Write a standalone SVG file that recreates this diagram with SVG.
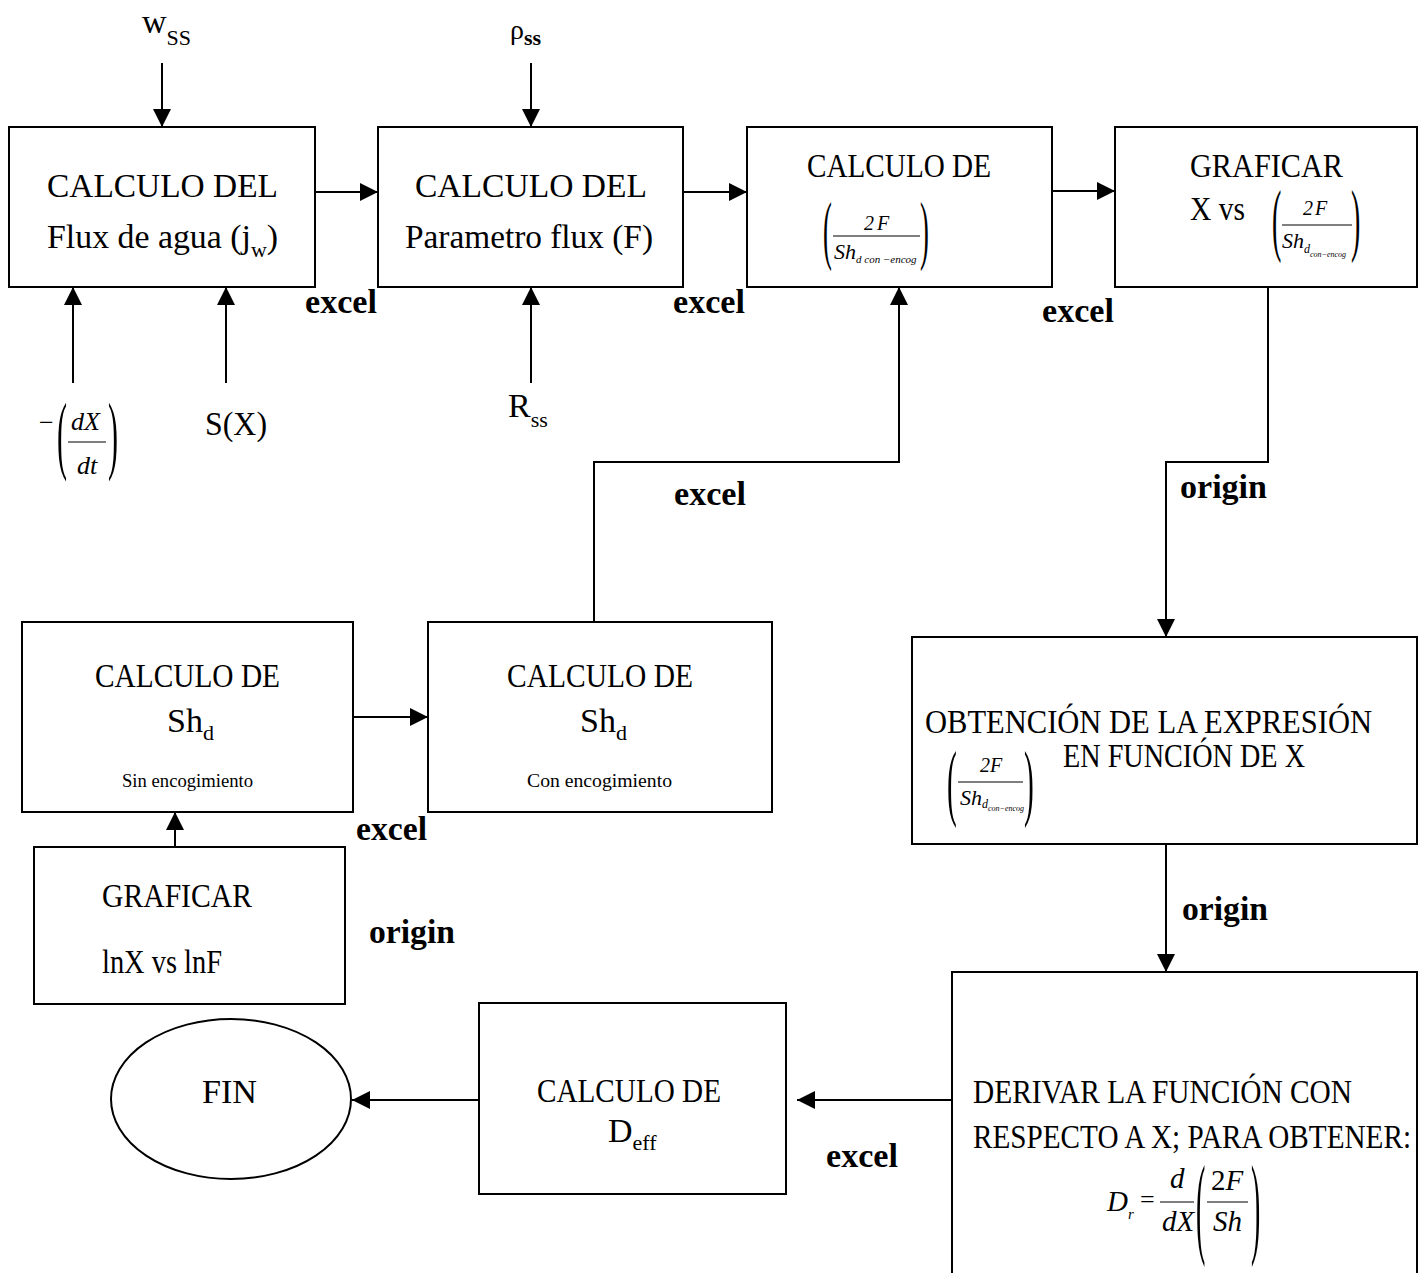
<svg xmlns="http://www.w3.org/2000/svg" width="1421" height="1273" viewBox="0 0 1421 1273">
<style>
.t{font-family:"Liberation Serif","Times New Roman",serif;fill:#000}
.b{font-weight:bold}
.i{font-style:italic}
.box{fill:#fff;stroke:#000;stroke-width:2}
.ln{fill:none;stroke:#000;stroke-width:2}
.fl{stroke:#000;stroke-width:1.2}
.f34{font-size:34px}
.f22{font-size:22px}
</style>
<defs>
<marker id="ah" markerUnits="userSpaceOnUse" markerWidth="18" markerHeight="18" viewBox="0 0 18 18" refX="18" refY="9" orient="auto">
<path d="M0,0 L18,9 L0,18 z" fill="#000"/>
</marker>
</defs>
<rect width="1421" height="1273" fill="#fff"/>

<g id="connectors">
<line class="ln" x1="162" y1="63" x2="162" y2="127" marker-end="url(#ah)"/>
<line class="ln" x1="73" y1="383" x2="73" y2="287" marker-end="url(#ah)"/>
<line class="ln" x1="226" y1="383" x2="226" y2="287" marker-end="url(#ah)"/>
<line class="ln" x1="531" y1="63" x2="531" y2="127" marker-end="url(#ah)"/>
<line class="ln" x1="531" y1="383" x2="531" y2="287" marker-end="url(#ah)"/>
<line class="ln" x1="315" y1="192" x2="378" y2="192" marker-end="url(#ah)"/>
<line class="ln" x1="683" y1="192" x2="747" y2="192" marker-end="url(#ah)"/>
<line class="ln" x1="1052" y1="191" x2="1115" y2="191" marker-end="url(#ah)"/>
<polyline class="ln" points="594,622 594,462 899,462 899,287" marker-end="url(#ah)"/>
<polyline class="ln" points="1268,287 1268,462 1166,462 1166,637" marker-end="url(#ah)"/>
<line class="ln" x1="1166" y1="844" x2="1166" y2="972" marker-end="url(#ah)"/>
<line class="ln" x1="952" y1="1100" x2="797" y2="1100" marker-end="url(#ah)"/>
<line class="ln" x1="479" y1="1100" x2="352" y2="1100" marker-end="url(#ah)"/>
<line class="ln" x1="353" y1="717" x2="428" y2="717" marker-end="url(#ah)"/>
<line class="ln" x1="175" y1="847" x2="175" y2="812" marker-end="url(#ah)"/>
</g>

<g id="labels">
<text class="t b f34" x="305" y="313" textLength="72" lengthAdjust="spacingAndGlyphs">excel</text>
<text class="t b f34" x="673" y="313" textLength="72" lengthAdjust="spacingAndGlyphs">excel</text>
<text class="t b f34" x="1042" y="322" textLength="72" lengthAdjust="spacingAndGlyphs">excel</text>
<text class="t b f34" x="674" y="505" textLength="72" lengthAdjust="spacingAndGlyphs">excel</text>
<text class="t b f34" x="356" y="840" textLength="71" lengthAdjust="spacingAndGlyphs">excel</text>
<text class="t b f34" x="826" y="1167" textLength="72" lengthAdjust="spacingAndGlyphs">excel</text>
<text class="t b f34" x="1180" y="498" textLength="87" lengthAdjust="spacingAndGlyphs">origin</text>
<text class="t b f34" x="1182" y="920" textLength="86" lengthAdjust="spacingAndGlyphs">origin</text>
<text class="t b f34" x="369" y="943" textLength="86" lengthAdjust="spacingAndGlyphs">origin</text>
</g>

<g id="input-wss">
<text class="t f34" x="142" y="33">w<tspan class="f22" dy="12">SS</tspan></text>
</g>
<g id="input-rho">
<text class="t" x="510" y="39" font-size="28">ρ<tspan class="b f22" dy="6">ss</tspan></text>
</g>
<g id="input-rss">
<text class="t f34" x="508" y="417">R<tspan class="f22" dy="10">ss</tspan></text>
</g>
<g id="input-sx">
<text class="t f34" x="205" y="435" textLength="62" lengthAdjust="spacingAndGlyphs">S(X)</text>
</g>
<g id="input-dxdt">
<text class="t" x="39" y="431" font-size="26">−</text>
<text class="t" font-size="86" transform="translate(57,463) scale(0.35,1)">(</text>
<text class="t i" x="71" y="430" font-size="26">dX</text>
<line class="fl" x1="68" y1="442" x2="106" y2="442"/>
<text class="t i" x="77" y="474" font-size="26">dt</text>
<text class="t" font-size="86" transform="translate(108,463) scale(0.35,1)">)</text>
</g>

<g id="box-flux">
<rect class="box" x="9" y="127" width="306" height="160"/>
<text class="t f34" x="47" y="197" textLength="231" lengthAdjust="spacingAndGlyphs">CALCULO DEL</text>
<text class="t f34" x="47" y="248" textLength="231" lengthAdjust="spacingAndGlyphs">Flux de agua (j<tspan class="f22" dy="9">w</tspan><tspan dy="-9">)</tspan></text>
</g>

<g id="box-parametro">
<rect class="box" x="378" y="127" width="305" height="160"/>
<text class="t f34" x="415" y="197" textLength="232" lengthAdjust="spacingAndGlyphs">CALCULO DEL</text>
<text class="t f34" x="405" y="248" textLength="248" lengthAdjust="spacingAndGlyphs">Parametro flux (F)</text>
</g>

<g id="box-calculo-2f">
<rect class="box" x="747" y="127" width="305" height="160"/>
<text class="t f34" x="807" y="177" textLength="184" lengthAdjust="spacingAndGlyphs">CALCULO DE</text>
<text class="t" font-size="76" transform="translate(823,254.5) scale(0.35,1)">(</text>
<text class="t i" x="864" y="230" font-size="20" letter-spacing="3">2F</text>
<line class="fl" x1="833" y1="236" x2="920" y2="236"/>
<text class="t i" x="834" y="259" font-size="22">Sh<tspan font-size="11" dy="4">d con −encog</tspan></text>
<text class="t" font-size="76" transform="translate(920,254.5) scale(0.35,1)">)</text>
</g>

<g id="box-graficar-x">
<rect class="box" x="1115" y="127" width="302" height="160"/>
<text class="t f34" x="1190" y="177" textLength="153" lengthAdjust="spacingAndGlyphs">GRAFICAR</text>
<text class="t f34" x="1190" y="220" textLength="55" lengthAdjust="spacingAndGlyphs">X vs</text>
<text class="t" font-size="80" transform="translate(1272,246) scale(0.35,1)">(</text>
<text class="t i" x="1303" y="215" font-size="20" letter-spacing="2">2F</text>
<line class="fl" x1="1282" y1="225" x2="1352" y2="225"/>
<text class="t i" x="1282" y="248" font-size="22">Sh<tspan font-size="12" dy="5">d</tspan><tspan font-size="8" dy="4">con−encog</tspan></text>
<text class="t" font-size="80" transform="translate(1351,246) scale(0.35,1)">)</text>
</g>

<g id="box-sin">
<rect class="box" x="22" y="622" width="331" height="190"/>
<text class="t f34" x="95" y="687" textLength="185" lengthAdjust="spacingAndGlyphs">CALCULO DE</text>
<text class="t f34" x="167" y="732">Sh<tspan class="f22" dy="8">d</tspan></text>
<text class="t" x="122" y="787" font-size="18" textLength="131" lengthAdjust="spacingAndGlyphs">Sin encogimiento</text>
</g>

<g id="box-con">
<rect class="box" x="428" y="622" width="344" height="190"/>
<text class="t f34" x="507" y="687" textLength="186" lengthAdjust="spacingAndGlyphs">CALCULO DE</text>
<text class="t f34" x="580" y="732">Sh<tspan class="f22" dy="8">d</tspan></text>
<text class="t" x="527" y="787" font-size="18" textLength="145" lengthAdjust="spacingAndGlyphs">Con  encogimiento</text>
</g>

<g id="box-graficar-ln">
<rect class="box" x="34" y="847" width="311" height="157"/>
<text class="t f34" x="102" y="907" textLength="150" lengthAdjust="spacingAndGlyphs">GRAFICAR</text>
<text class="t f34" x="102" y="973" textLength="120" lengthAdjust="spacingAndGlyphs">lnX vs lnF</text>
</g>

<g id="box-obtencion">
<rect class="box" x="912" y="637" width="505" height="207"/>
<text class="t f34" x="925" y="733" textLength="447" lengthAdjust="spacingAndGlyphs">OBTENCIÓN DE LA  EXPRESIÓN</text>
<text class="t f34" x="1063" y="767" textLength="242" lengthAdjust="spacingAndGlyphs">EN FUNCIÓN DE X</text>
<text class="t" font-size="42" transform="translate(947,809.5) scale(0.7,2)">(</text>
<text class="t i" x="980" y="772" font-size="20">2F</text>
<line class="fl" x1="958" y1="782" x2="1023" y2="782"/>
<text class="t i" x="960" y="805" font-size="22">Sh<tspan font-size="12" dy="3">d</tspan><tspan font-size="8" dy="3">con−encog</tspan></text>
<text class="t" font-size="42" transform="translate(1024,809.5) scale(0.7,2)">)</text>
</g>

<g id="box-derivar">
<rect class="box" x="952" y="972" width="465" height="310"/>
<text class="t f34" x="973" y="1103" textLength="379" lengthAdjust="spacingAndGlyphs">DERIVAR LA FUNCIÓN CON</text>
<text class="t f34" x="973" y="1148" textLength="438" lengthAdjust="spacingAndGlyphs">RESPECTO A X; PARA OBTENER:</text>
<text class="t i" x="1107" y="1211" font-size="29">D<tspan font-size="15" dy="8">r</tspan></text>
<text class="t" x="1140" y="1208" font-size="26">=</text>
<text class="t i" x="1170" y="1188" font-size="29">d</text>
<line class="fl" x1="1160" y1="1202" x2="1194" y2="1202"/>
<text class="t i" x="1162" y="1231" font-size="29">dX</text>
<text class="t" font-size="112" transform="translate(1196,1243) scale(0.25,1)">(</text>
<text class="t" x="1211" y="1190" font-size="29">2<tspan class="i">F</tspan></text>
<line class="fl" x1="1207" y1="1202" x2="1248" y2="1202"/>
<text class="t i" x="1213" y="1231" font-size="29">Sh</text>
<text class="t" font-size="112" transform="translate(1251,1243) scale(0.25,1)">)</text>
</g>

<g id="box-deff">
<rect class="box" x="479" y="1003" width="307" height="191"/>
<text class="t f34" x="537" y="1102" textLength="184" lengthAdjust="spacingAndGlyphs">CALCULO DE</text>
<text class="t f34" x="608" y="1142">D<tspan class="f22" dy="8">eff</tspan></text>
</g>

<g id="node-fin">
<ellipse class="box" cx="231" cy="1099" rx="120" ry="80"/>
<text class="t f34" x="202" y="1103" textLength="55" lengthAdjust="spacingAndGlyphs">FIN</text>
</g>
</svg>
